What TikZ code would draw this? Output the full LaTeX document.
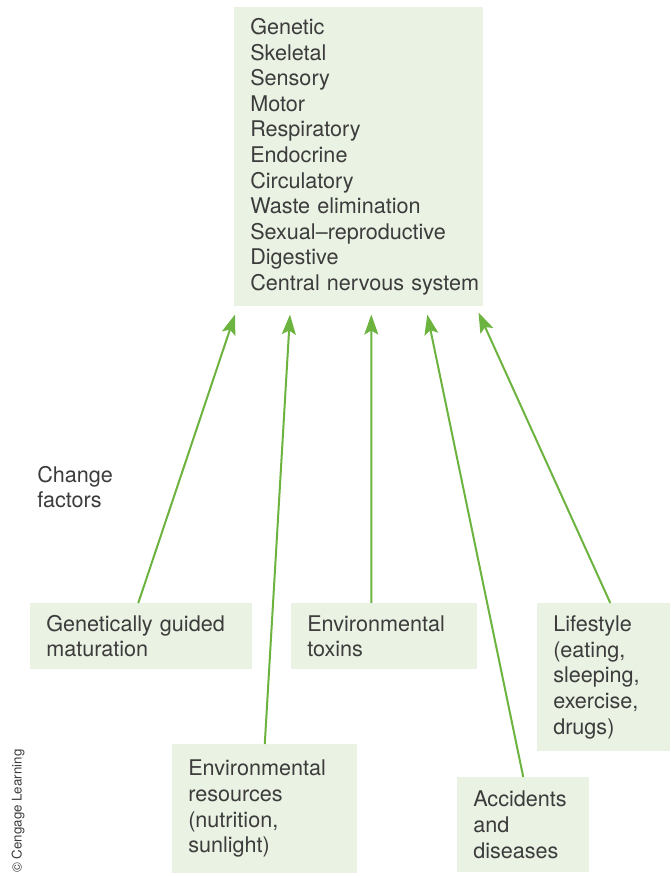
\documentclass[tikz,border=0pt]{standalone}
\usepackage{fontspec}
\setmainfont{TeX Gyre Heros}
\usepackage{xcolor}
\usepackage{tikz}
\usetikzlibrary{arrows.meta}

\definecolor{boxfill}{HTML}{EAF2E3}
\definecolor{arrowgreen}{HTML}{6CB33F}
\definecolor{textgray}{HTML}{3C3C3C}

\begin{document}
\begin{tikzpicture}[
  x=0.75pt, y=-0.75pt,
  every node/.style={font=\fontsize{16.2}{19.2}\selectfont, text=textgray},
  system/.style={rectangle, fill=boxfill, anchor=north west, align=left,
    inner xsep=12pt, inner ysep=0pt},
  factor/.style={system},
  link/.style={-{Stealth[length=15pt,width=10.5pt,inset=3pt]}, line width=1.5pt, arrowgreen},
  >=Stealth
]
  \useasboundingbox (0,0) rectangle (671,876);

  % body systems
  \node[system, text width=162.75pt, minimum height=224.25pt] (sys) at (234,7)
    {Genetic\\Skeletal\\Sensory\\Motor\\Respiratory\\Endocrine\\Circulatory\\Waste elimination\\Sexual--reproductive\\Digestive\\\mbox{Central nervous system}};

  \node[anchor=west, align=left, inner sep=0pt] (change) at (37,487) {Change\\factors};

  % change factors
  \node[factor, text width=142.5pt, minimum height=49.5pt] (gen) at (30,603) {Genetically guided\\maturation};
  \node[factor, text width=115.5pt, minimum height=49.5pt] (tox) at (291,603) {Environmental\\toxins};
  \node[factor, text width=75.75pt, minimum height=111pt] (life) at (537,603) {Lifestyle\\(eating,\\sleeping,\\exercise,\\drugs)};
  \node[factor, text width=114.75pt, minimum height=96.75pt] (res) at (172,744) {Environmental\\resources\\(nutrition,\\sunlight)};
  \node[factor, text width=75pt, minimum height=71.25pt] (acc) at (457,777) {Accidents\\and\\diseases};

  \draw[link] ([xshift=-2.25pt]gen.north) -- ([xshift=0.75pt, yshift=-6pt]sys.south west);
  \draw[link] (res.north) -- ([xshift=42pt, yshift=-6pt]sys.south west);
  \draw[link] ([xshift=-9.75pt]tox.north) -- ([xshift=9.4pt, yshift=-6pt]sys.south);
  \draw[link] (acc.north) -- ([xshift=51.4pt, yshift=-6pt]sys.south);
  \draw[link] ([xshift=4.9pt]life.north) -- ([xshift=-3.75pt, yshift=-4.5pt]sys.south east);

  \node[rotate=90, anchor=west, inner sep=0pt, font=\fontsize{10}{12}\selectfont] (copy) at (18,873) {\textcopyright\ Cengage Learning};
\end{tikzpicture}
\end{document}
